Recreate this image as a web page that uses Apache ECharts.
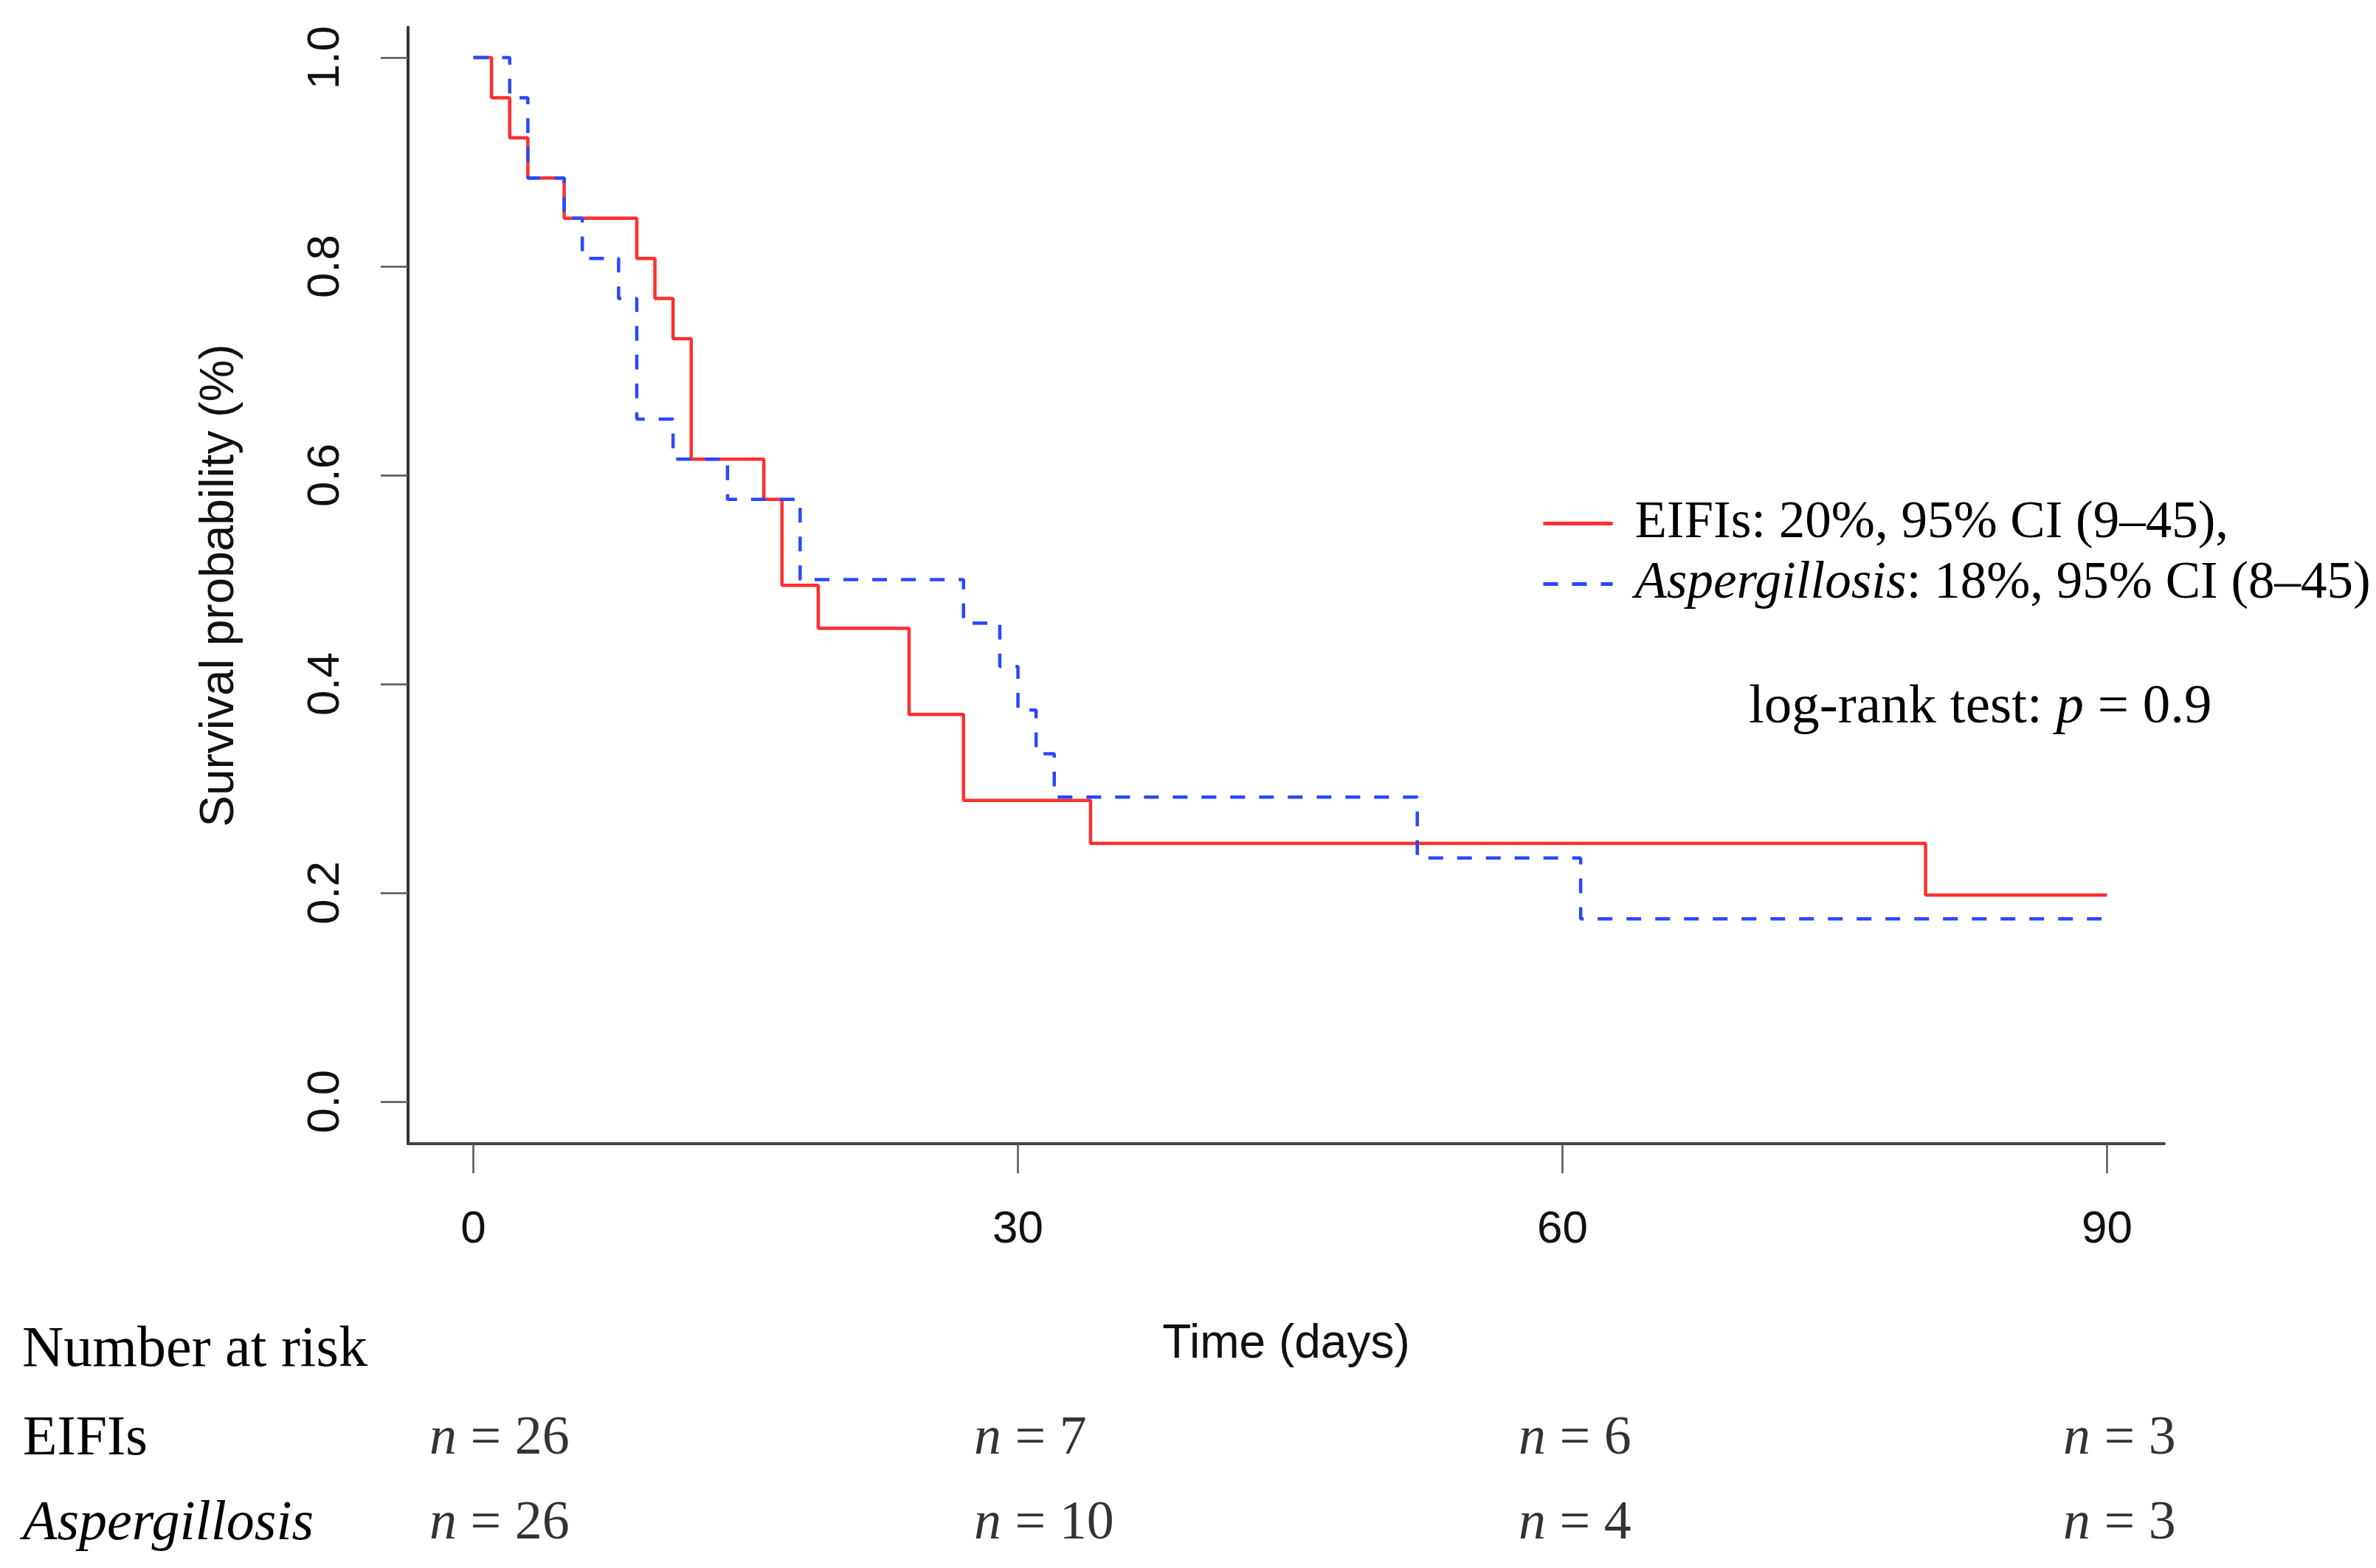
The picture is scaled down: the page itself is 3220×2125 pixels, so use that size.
<!DOCTYPE html>
<html><head><meta charset="utf-8">
<script src="https://cdn.jsdelivr.net/npm/echarts@6/dist/echarts.min.js"></script>
<style>html,body{margin:0;padding:0;background:#fff}#c{width:3220px;height:2125px}</style>
</head><body><div id="c"></div>
<script>
// Kaplan-Meier step data
const eifiTimes = [0, 1, 2, 3, 5, 9, 10, 11, 12, 16, 17, 19, 24, 27, 34, 80, 90];
const eifiSurv  = [1, 0.9615, 0.9231, 0.8846, 0.8462, 0.8077, 0.7692, 0.7308, 0.6154, 0.5769, 0.4945, 0.4533, 0.3709, 0.2885, 0.2473, 0.1978, 0.1978];
const aspTimes  = [0, 2, 3, 5, 6, 8, 9, 11, 14, 18, 27, 29, 30, 31, 32, 52, 61, 90];
const aspSurv   = [1, 0.9615, 0.8846, 0.8462, 0.8077, 0.7692, 0.6538, 0.6154, 0.5769, 0.5, 0.4583, 0.4167, 0.375, 0.3333, 0.2917, 0.2333, 0.175, 0.175];
const xTicks = [0, 30, 60, 90];
const yTicks = [0, 0.2, 0.4, 0.6, 0.8, 1.0];
const groups = ['EIFIs', 'Aspergillosis'];
const riskTimes = [0, 30, 60, 90];
const riskEIFIs = [26, 7, 6, 3];
const riskAsp   = [26, 10, 4, 3];
const legendText = {
  'EIFIs': 'EIFIs: 20%, 95% CI (9–45),',
  'Aspergillosis': '{i|Aspergillosis}: 18%, 95% CI (8–45)'
};

const SANS = 'Liberation Sans, Arial, sans-serif';
const SERIF = 'Liberation Serif, Times New Roman, serif';
const RED = '#ff2f2f';
const BLUE = '#2a48ff';

const riskData = [];
riskTimes.forEach((t, i) => {
  riskData.push([t, groups[0], riskEIFIs[i]]);
  riskData.push([t, groups[1], riskAsp[i]]);
});

const chart = echarts.init(document.getElementById('c'));
chart.setOption({
  animation: false,
  backgroundColor: '#fff',
  grid: [
    { left: 553, right: 287, top: 37, bottom: 575 },
    { left: 553, right: 287, top: 1951, height: 115 }
  ],
  xAxis: [
    {
      gridIndex: 0, type: 'value', min: -3.6, max: 93.15,
      name: 'Time (days)', nameLocation: 'middle', nameGap: 240,
      nameTextStyle: { fontFamily: SANS, fontSize: 64, color: '#111' },
      axisLine: { show: true, onZero: false, lineStyle: { color: '#444', width: 4 } },
      axisTick: { show: true, length: 40, customValues: xTicks, lineStyle: { color: '#555', width: 2.5 } },
      axisLabel: { customValues: xTicks, margin: 86, fontFamily: SANS, fontSize: 62, color: '#111' },
      splitLine: { show: false }
    },
    {
      gridIndex: 1, type: 'value', min: -3.6, max: 93.15, show: false
    }
  ],
  yAxis: [
    {
      gridIndex: 0, type: 'value', min: -0.0403, max: 1.029,
      name: 'Survival probability (%)', nameLocation: 'middle', nameGap: 223,
      nameTextStyle: { fontFamily: SANS, fontSize: 64, color: '#111' },
      axisLine: { show: true, onZero: false, lineStyle: { color: '#333', width: 4 } },
      axisTick: { show: true, length: 37, customValues: yTicks, lineStyle: { color: '#555', width: 2.5 } },
      axisLabel: { customValues: yTicks, rotate: 90, margin: 80, fontFamily: SANS, fontSize: 62, color: '#111',
        formatter: v => v.toFixed(1) },
      splitLine: { show: false }
    },
    {
      gridIndex: 1, type: 'category', data: groups, inverse: true, boundaryGap: false,
      axisLine: { show: false }, axisTick: { show: false }, splitLine: { show: false },
      axisLabel: {
        show: true, align: 'left', margin: 522, fontFamily: SERIF, fontSize: 76, color: '#000',
        formatter: v => v === 'Aspergillosis' ? '{i|Aspergillosis}' : v,
        rich: { i: { fontFamily: SERIF, fontSize: 76, fontStyle: 'italic', color: '#000' } }
      }
    }
  ],
  legend: {
    data: groups, orient: 'vertical', left: 2089, top: 674, padding: 0,
    itemWidth: 94, itemHeight: 20, itemGap: 11,
    itemStyle: { color: 'transparent', borderWidth: 0, opacity: 0 },
    lineStyle: { width: 5 },
    formatter: name => legendText[name],
    textStyle: {
      fontFamily: SERIF, fontSize: 71, color: '#000', lineHeight: 70, padding: [0, 0, 0, 25],
      rich: { i: { fontFamily: SERIF, fontSize: 71, fontStyle: 'italic', color: '#000', lineHeight: 70 } }
    }
  },
  graphic: [
    {
      type: 'text', left: 30, top: 1831 - 39,
      style: { text: 'Number at risk', fontFamily: SERIF, fontSize: 78, fill: '#000' }
    },
    {
      type: 'text', left: 2370, top: 960 - 38,
      style: {
        text: 'log-rank test: {i|p} = 0.9', fontFamily: SERIF, fontSize: 75, fill: '#000',
        rich: { i: { fontFamily: SERIF, fontSize: 75, fontStyle: 'italic', fill: '#000' } }
      }
    }
  ],
  series: [
    {
      name: 'EIFIs', type: 'line', step: 'end', symbol: 'none', showSymbol: false, xAxisIndex: 0, yAxisIndex: 0,
      data: eifiTimes.map((t, i) => [t, eifiSurv[i]]),
      lineStyle: { color: RED, width: 4.5 }, itemStyle: { color: RED }, z: 3
    },
    {
      name: 'Aspergillosis', type: 'line', step: 'end', symbol: 'none', showSymbol: false, xAxisIndex: 0, yAxisIndex: 0,
      data: aspTimes.map((t, i) => [t, aspSurv[i]]),
      lineStyle: { color: BLUE, width: 4.5, type: [20, 19] }, itemStyle: { color: BLUE }, z: 4
    },
    {
      name: 'risk', type: 'scatter', xAxisIndex: 1, yAxisIndex: 1,
      symbolSize: 1, itemStyle: { color: 'transparent' },
      data: riskData,
      label: {
        show: true, position: 'right', distance: 0, offset: [-60, 0],
        fontFamily: SERIF, fontSize: 74, color: '#000',
        formatter: p => '{i|n} = ' + p.value[2],
        rich: { i: { fontFamily: SERIF, fontSize: 74, fontStyle: 'italic', color: '#000' } }
      }
    }
  ]
});
</script>
</body></html>
